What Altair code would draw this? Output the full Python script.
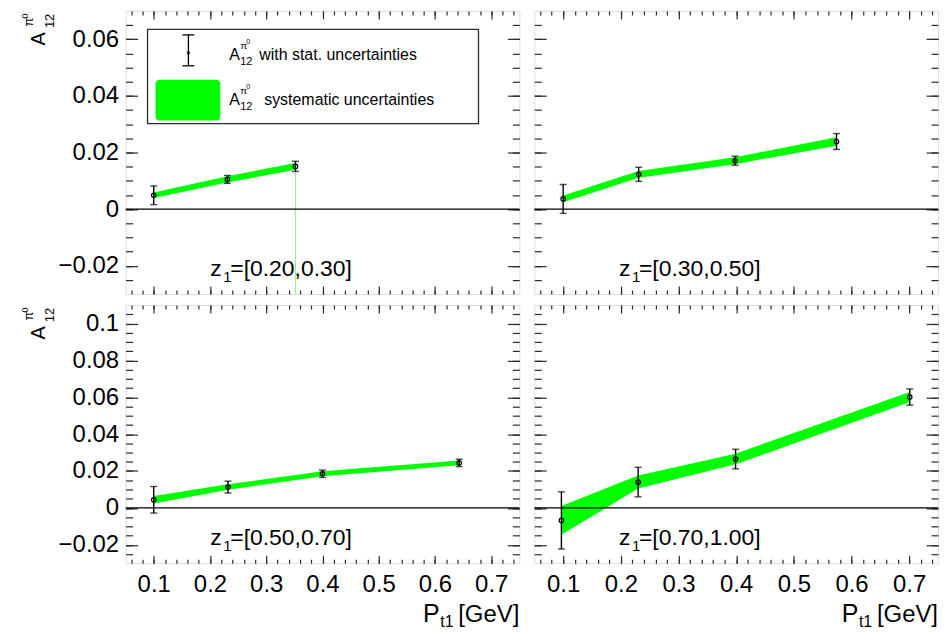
import altair as alt
import numpy as np
import pandas as pd

FONT = "Liberation Sans"
GREEN = "#00ff00"
INK = "#000000"
FRAME = "#2b2b2b"

# ---- A12 (pi0) asymmetry versus P_t1, one list per z1 bin ----
z_bins = ["[0.20,0.30]", "[0.30,0.50]", "[0.50,0.70]", "[0.70,1.00]"]

pt_z1 = [0.100, 0.231, 0.352]
a12_z1 = [0.0049, 0.0105, 0.0151]
stat_z1 = [0.0033, 0.0014, 0.0018]
sys_z1 = [0.0010, 0.0011, 0.0012]

pt_z2 = [0.100, 0.231, 0.398, 0.574]
a12_z2 = [0.0036, 0.0123, 0.0171, 0.0239]
stat_z2 = [0.0051, 0.0025, 0.0016, 0.0028]
sys_z2 = [0.0012, 0.0012, 0.0012, 0.0015]

pt_z3 = [0.100, 0.232, 0.400, 0.643]
a12_z3 = [0.0044, 0.0113, 0.0185, 0.0244]
stat_z3 = [0.0072, 0.0032, 0.0020, 0.0020]
sys_z3 = [0.0020, 0.0015, 0.0014, 0.0013]

pt_z4 = [0.097, 0.230, 0.399, 0.701]
a12_z4 = [-0.0068, 0.0140, 0.0265, 0.0601]
stat_z4 = [0.0155, 0.0080, 0.0053, 0.0044]
sys_z4 = [0.0078, 0.0035, 0.0029, 0.0027]

# ---- axes ----
x_domain = [0.05, 0.75]
y_domain_top = [-0.03, 0.07]
y_domain_bottom = [-0.03, 0.11]

x_major = [0.1, 0.2, 0.3, 0.4, 0.5, 0.6, 0.7]
x_minor = [round(float(v), 2) for v in np.arange(0.06, 0.745, 0.02)]
y_major_top = [-0.02, 0.0, 0.02, 0.04, 0.06]
y_major_bottom = [-0.02, 0.0, 0.02, 0.04, 0.06, 0.08, 0.1]
y_minor_top = [round(float(v), 3) for v in np.arange(-0.025, 0.0675, 0.005)]
y_minor_bottom = [round(float(v), 3) for v in np.arange(-0.025, 0.1075, 0.005)]

W_LEFT, W_RIGHT = 395, 405
H_TOP, H_BOTTOM = 284, 259


def axis(orient, size, values, labels=False, pad=0):
    """Inward-pointing ticks drawn against the frame (axis pulled inside by its tick length)."""
    opts = dict(orient=orient, values=values, tickSize=size, offset=-size,
                tickWidth=1.2, tickColor=FRAME, domain=False, grid=False,
                labels=labels, title=None, minExtent=0,
                labelFlush=False, labelOverlap=False)
    if labels:
        opts.update(labelFont=FONT, labelFontSize=24, labelColor=INK,
                    labelPadding=pad, format="~g")
    return alt.Axis(**opts)


def text(txt, x, y, size, align="left", baseline="alphabetic", angle=0, color=INK):
    mk = dict(text=txt, font=FONT, fontSize=size, align=align,
              baseline=baseline, color=color)
    if angle:
        mk["angle"] = angle
    return alt.Chart(alt.Data(values=[{}])).mark_text(**mk).encode(
        x=alt.value(x), y=alt.value(y))


def box(x1, y1, x2, y2, fill, stroke=None, radius=0):
    mk = dict(fill=fill, cornerRadius=radius)
    if stroke:
        mk.update(stroke=stroke, strokeWidth=1.3)
    return alt.Chart(alt.Data(values=[{}])).mark_rect(**mk).encode(
        x=alt.value(x1), x2=alt.value(x2), y=alt.value(y1), y2=alt.value(y2))


def y_title():
    return [
        text("A", -87, 28, 20, align="center", baseline="middle", angle=270),
        text("12", -76, 10, 13, align="center", baseline="middle", angle=270),
        text("π", -97, 11, 13, align="center", baseline="middle", angle=270),
        text("0", -101, 5, 9, align="center", baseline="middle", angle=270),
    ]


def x_title(w, h):
    return [
        text("[GeV]", w, h + 59, 24, align="right"),
        text("t1", w - 66, h + 64, 16, align="right"),
        text("P", w - 80, h + 59, 25, align="right"),
    ]


def legend():
    return [
        box(22, 18.5, 354, 113, "white", FRAME),
        alt.Chart(alt.Data(values=[{}])).mark_rule(color=INK, strokeWidth=1.3).encode(
            x=alt.value(63), y=alt.value(24), y2=alt.value(55)),
        alt.Chart(alt.Data(values=[{}])).mark_rule(color=INK, strokeWidth=1.3).encode(
            x=alt.value(57), x2=alt.value(69), y=alt.value(24)),
        alt.Chart(alt.Data(values=[{}])).mark_rule(color=INK, strokeWidth=1.3).encode(
            x=alt.value(57), x2=alt.value(69), y=alt.value(55)),
        alt.Chart(alt.Data(values=[{}])).mark_point(
            shape="circle", filled=True, size=14, color=INK).encode(
            x=alt.value(63), y=alt.value(42)),
        box(30, 69, 95, 110, GREEN, radius=4),
        text("A", 104, 49, 16),
        text("12", 115, 54, 11),
        text("π", 115, 38, 10),
        text("0", 121, 33, 7),
        text("with stat. uncertainties", 134, 49, 16),
        text("A", 104, 94, 16),
        text("12", 115, 99, 11),
        text("π", 115, 83, 10),
        text("0", 121, 78, 7),
        text("systematic uncertainties", 139, 94, 16),
    ]


def panel(pt, a12, stat, sys, z_label, width, height, y_domain, y_major, y_minor,
          x_labels, y_labels, extras=(), trail=False):
    a = np.array(a12)
    df = pd.DataFrame({
        "pt": pt, "a12": a12,
        "stat_lo": a - np.array(stat), "stat_hi": a + np.array(stat),
        "sys_lo": a - np.array(sys), "sys_hi": a + np.array(sys),
    })
    xs = alt.Scale(domain=x_domain, nice=False, zero=False)
    ys = alt.Scale(domain=y_domain, nice=False, zero=False)
    base = alt.Chart(df)

    band = base.mark_area(color=GREEN, opacity=1).encode(
        x=alt.X("pt:Q", scale=xs, axis=axis("bottom", 8, x_major, x_labels, 9)),
        y=alt.Y("sys_lo:Q", scale=ys, axis=axis("left", 12, y_major, y_labels, 7)),
        y2="sys_hi:Q")
    zero = alt.Chart(alt.Data(values=[{}])).mark_rule(color=INK, strokeWidth=1.3).encode(
        y=alt.YDatum(0, type="quantitative", scale=ys, axis=None))
    bars = base.mark_rule(color=INK, strokeWidth=1.4).encode(
        x=alt.X("pt:Q", scale=xs, axis=axis("bottom", 4, x_minor)),
        y=alt.Y("stat_lo:Q", scale=ys, axis=axis("left", 7, y_minor)),
        y2="stat_hi:Q")
    cap_lo = base.mark_tick(orient="horizontal", size=7, thickness=1.4, color=INK).encode(
        x=alt.X("pt:Q", scale=xs, axis=axis("top", 8, x_major)),
        y=alt.Y("stat_lo:Q", scale=ys, axis=axis("right", 12, y_major)))
    cap_hi = base.mark_tick(orient="horizontal", size=7, thickness=1.4, color=INK).encode(
        x=alt.X("pt:Q", scale=xs, axis=axis("top", 4, x_minor)),
        y=alt.Y("stat_hi:Q", scale=ys, axis=axis("right", 7, y_minor)))
    pts = base.mark_point(shape="circle", filled=False, size=20, strokeWidth=1.2,
                          color=INK, opacity=1).encode(
        x=alt.X("pt:Q", scale=xs, axis=None),
        y=alt.Y("a12:Q", scale=ys, axis=None))

    layers = [band]
    if trail:
        # thin vertical line left under the last point of the band
        layers.append(
            base.transform_joinaggregate(pt_max="max(pt)")
            .transform_filter("datum.pt == datum.pt_max")
            .mark_rule(color="#8cf58c", strokeWidth=1.2, opacity=1)
            .encode(x=alt.X("pt:Q", scale=xs, axis=None),
                    y=alt.Y("a12:Q", scale=ys, axis=None),
                    y2=alt.value(height)))
    layers += [zero, bars, cap_lo, cap_hi, pts]
    layers += [
        text("z", 85, height - 18, 23),
        text("1", 98, height - 12, 15),
        text("=" + z_label, 105, height - 18, 23),
    ]
    layers += list(extras)
    return alt.layer(*layers).resolve_axis(x="independent", y="independent").properties(
        width=width, height=height)


p1 = panel(pt_z1, a12_z1, stat_z1, sys_z1, z_bins[0], W_LEFT, H_TOP, y_domain_top,
           y_major_top, y_minor_top, False, True, extras=legend() + y_title(), trail=True)
p2 = panel(pt_z2, a12_z2, stat_z2, sys_z2, z_bins[1], W_RIGHT, H_TOP, y_domain_top,
           y_major_top, y_minor_top, False, False)
p3 = panel(pt_z3, a12_z3, stat_z3, sys_z3, z_bins[2], W_LEFT, H_BOTTOM, y_domain_bottom,
           y_major_bottom, y_minor_bottom, True, True,
           extras=y_title() + x_title(W_LEFT, H_BOTTOM))
p4 = panel(pt_z4, a12_z4, stat_z4, sys_z4, z_bins[3], W_RIGHT, H_BOTTOM, y_domain_bottom,
           y_major_bottom, y_minor_bottom, True, False,
           extras=x_title(W_RIGHT, H_BOTTOM))

chart = alt.vconcat(
    alt.hconcat(p1, p2, spacing=11),
    alt.hconcat(p3, p4, spacing=11),
    spacing=7,
).properties(
    padding={"left": 20, "top": 8, "right": 5, "bottom": 0},
    background="white",
).configure_view(stroke=FRAME, strokeWidth=1.5).configure(font=FONT)

chart.save("out.html", embed_options={"renderer": "svg", "actions": False})
